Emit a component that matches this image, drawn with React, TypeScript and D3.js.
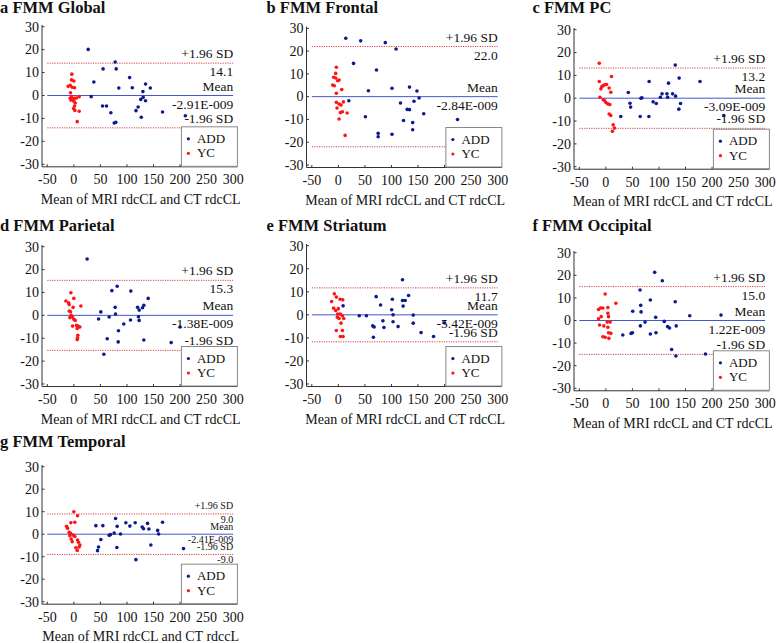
import React from 'react';
import * as d3 from 'd3';

// ---------- data ----------
const xTicks = [-50, 0, 50, 100, 150, 200, 250, 300];
const yTicks = [-30, -20, -10, 0, 10, 20, 30];
const panelLetters = ['a', 'b', 'c', 'd', 'e', 'f', 'g'];
const panelNames = ['FMM Global', 'FMM Frontal', 'FMM PC', 'FMM Parietal', 'FMM Striatum', 'FMM Occipital', 'FMM Temporal'];
const upperLimits = [14.1, 22.0, 13.2, 15.3, 11.7, 15.0, 9.0];
const meanValues = [-2.91e-9, -2.84e-9, -3.09e-9, -1.38e-9, -5.42e-9, 1.22e-9, -2.41e-9];
const meanLabels = ['-2.91E-009', '-2.84E-009', '-3.09E-009', '-1.38E-009', '-5.42E-009', '1.22E-009', '-2.41E-009'];
const xTitles = [
  'Mean of MRI rdcCL and CT rdcCL', 'Mean of MRI rdcCL and CT rdcCL', 'Mean of MRI rdcCL and CT rdcCL',
  'Mean of MRI rdcCL and CT rdcCL', 'Mean of MRI rdcCL and CT rdcCL', 'Mean of MRI rdcCL and CT rdcCL',
  'Mean of MRI rdcCL and CT rdccL',
];
const legendNames = ['ADD', 'YC'];

const globalADD = [
  [27, 20.1], [32.6, -0.5], [37.7, 5.9], [55, 11.6], [54, -4.6], [61.5, -4.6], [69.7, -7.5], [77.8, 14.6],
  [79.7, 11.6], [84.7, 3.3], [76, -12], [79, -11.7], [105, 7.8], [110, 3.4], [117, -6.6], [121, -5],
  [126, -1.7], [127, -9.5], [130, 1.7], [130.6, -0.8], [135, -2.3], [135, 5], [144, 3.3], [167, -7.2], [210, -8.8],
];
const globalYC = [
  [-3.8, 9.3], [-4.4, 6.8], [0, 6.3], [-10.7, 4.0], [-6.9, 4.4], [-3.1, 3.6], [1.3, 3.4], [-6.3, 1.2],
  [-4.4, -0.5], [-6.9, -1.2], [-2.5, -1.5], [1.3, -1.2], [5, -1.1], [10, -0.5], [-5.6, -2], [0, -2.5],
  [2.5, -3.3], [1.3, -4.6], [-0.6, -5.7], [1.9, -6.5], [10, -6.9], [6.3, -11.4],
];
const frontalADD = [
  [14, 25.6], [42, 24.5], [88.4, 23.7], [108.7, 20.9], [28.6, 14.6], [71.8, 11.7], [19.7, -1.8], [56.6, 2.6],
  [50.9, -8.8], [75, -16.1], [75, -17.6], [101, 3.7], [101, -16.5], [117, -2.8], [122.7, -10.5], [129.7, -5.6],
  [134, -5.7], [134, 4.2], [140, -11.4], [140, -14.5], [142.4, -2], [148, 2.5], [152, -0.6], [160.8, -7.5], [224.4, -10],
];
const frontalYC = [
  [-3.8, 12.9], [-5, 10.2], [-8.9, 8.5], [-5, 8.2], [-1.3, 7], [1.3, 7.3], [-10.8, 5.1], [-7.6, 4.8],
  [6.4, 3.1], [-3.8, 1.5], [-3.8, -2.5], [1.3, -3.2], [5, -3.7], [9.5, -2.3], [-2.5, -5], [7.6, -6.6],
  [3.8, -7], [16.5, -7.2], [1.3, -9.8], [12.7, -17],
];
const pcADD = [
  [42.3, 2.5], [45.4, -2.2], [46.7, -3.9], [28, -8], [64.7, -8], [66, 0], [68, 0.2], [81, -8],
  [81.5, 7.3], [89, -1.6], [95, -2.3], [102.7, 0.4], [105.8, 1.9], [115, 1.9], [116.4, 0.4], [118, 6.6],
  [125.7, 1.9], [131.3, 0.9], [130.7, 14.5], [138, 8.8], [137.5, -4.8], [140.6, -2.3], [177.3, 7.3], [222, -7.6],
];
const pcYC = [
  [-12.4, 7.3], [-12.4, 15.3], [-11.2, 0.4], [-9.3, 4.1], [-7.5, 5.1], [-5, 5.5], [-1.2, 6], [1.2, 6],
  [-5, -0.7], [-2.5, -1], [0, -1.9], [3.7, -2.5], [6.2, 4.5], [9.3, 2.6], [10.6, 9.5], [6.2, -6.9],
  [9.3, -7.6], [7.5, -2.8], [13.7, -11.7], [16.2, -13.1], [12.4, -14.5],
];
const parietalADD = [
  [25, 24.6], [46.5, -1.6], [50.8, 1.5], [62.8, -10.2], [66.5, -0.7], [71.6, 10.8], [77.8, 3.5], [78.5, 0.6],
  [81.6, 12.7], [83.5, -11.6], [84, -6.7], [56.5, -17], [94, -3.8], [107.3, 10.6], [106.7, -2], [120, 3.5],
  [123, 2.3], [121.7, -0.6], [123, -2.2], [129.3, 3.3], [131.8, 4.4], [131.8, -10.8], [140, 7.4], [183.3, -11.9], [200, -5.1],
];
const parietalYC = [
  [-5.6, 9.9], [-15, 6.3], [-10, 5.5], [-8.8, 4.7], [0, 7.4], [13.2, 4.1], [-1.3, 3.5], [-8.8, 1.9],
  [-6.3, 1.6], [-5, 0], [-2.5, -0.7], [-7.5, -1], [0, -1.7], [2.5, -2.2], [-2.5, -4.7], [5, -4.4],
  [8.8, -4.8], [11.3, -5.1], [6.3, -5.7], [7.5, -8.7], [6.9, -9.8], [6.3, -10.6],
];
const striatumADD = [
  [8.9, 3.9], [39.4, -0.4], [52.8, -0.4], [64.8, -4.8], [67.4, -5.3], [66, -9.7], [71.2, 7.9], [79.5, 4.3],
  [83.9, -2.6], [85.8, -5.5], [100.4, 2.2], [101.7, 6.8], [103, 0], [103, -3], [112.5, -5.1], [120.8, 15.2],
  [120.8, 6.2], [122, 3.8], [125.9, 6.2], [132.2, 8.4], [141, -0.1], [141, -3.6], [155.8, -7.7], [179.3, -9.4], [200, -3.5],
];
const striatumYC = [
  [-7.6, 9.1], [-3.8, 7.7], [-12.7, 5.8], [-8.9, 2.9], [-5, 1.9], [0, 2.7], [3.2, 6.8], [8.3, 6.5],
  [-1.3, 0.4], [3.8, 0.4], [7.6, -0.4], [10.2, -1.6], [-1.9, -1], [1.3, -1.6], [5, -3.6], [-3.8, -6.8],
  [7.6, -6.8], [3.8, -9.4], [8.9, -9.4],
];
const occipitalADD = [
  [31.9, -6.4], [47.5, -5.7], [50, -5.4], [50.6, 4.1], [64.4, 13.5], [65.6, 6.7], [66.3, 3.8], [65, -2.4],
  [73.8, -0.7], [83.8, 9.1], [83.8, -6], [91.9, 21.3], [93.8, 1.4], [94.4, -5.4], [106.3, 17.6], [110, -0.4],
  [116.3, -2.7], [120, -3.3], [123.8, -12.8], [130.6, 8.3], [132.5, -2.4], [131.9, -15.7], [158, 2.1], [187.5, -14.8], [216.9, 2.4],
];
const occipitalYC = [
  [-1.3, 11.7], [18.8, 7.6], [-13.8, 4.9], [-10, 5.5], [-5.6, 5.5], [3.8, 5.7], [-8.8, 1.7], [-13.8, 0.8],
  [3.8, 3.2], [5, 1.7], [2.5, -0.7], [8.1, -0.7], [-11.9, -2], [-3.8, -2.4], [3.8, -3], [9.4, -5.7],
  [5, -5.4], [-5.6, -7.2], [-1.3, -7.4], [5.6, -7.9],
];
const temporalADD = [
  [41.4, 3.8], [44.6, -7.3], [46.5, -5.7], [50.8, -2.4], [54.6, 3.8], [66.5, -0.5], [69, -0.2], [75.9, 0.5],
  [78.5, 7], [81.6, 3.5], [81, -5.9], [87.9, 0.1], [97.9, 5.1], [105.5, 3.6], [115.5, 5.1], [116.8, -11.3],
  [128.7, 3.2], [131.2, 2.4], [138.8, 4.8], [141.3, 2.3], [145, -4.8], [157.8, 1.7], [159.6, 0.1], [167, 5.3], [206.5, -6.4],
];
const temporalYC = [
  [0, 10], [6.9, 8.2], [-5.6, 5.1], [1.9, 5.3], [-13.8, 3.5], [-11.9, 2.6], [-8.8, 0.8], [-6.3, 0.4],
  [-7.5, -0.7], [-1.3, -0.4], [1.9, -1], [-5, -2.1], [-3.1, -3.3], [6.9, -2.6], [8.8, -3.6], [11.3, -4.8],
  [10, -5.7], [3.8, -6], [6.3, -7.2],
];

const addSeries = [globalADD, frontalADD, pcADD, parietalADD, striatumADD, occipitalADD, temporalADD];
const ycSeries = [globalYC, frontalYC, pcYC, parietalYC, striatumYC, occipitalYC, temporalYC];

// ---------- layout ----------
const layout = [
  { left: 42, y30: 26.7, yM30: 164.3, titleX: 0, titleY: 13 },
  { left: 306.5, y30: 28.3, yM30: 165, titleX: 266.5, titleY: 13 },
  { left: 574, y30: 29.7, yM30: 166.7, titleX: 532.5, titleY: 13 },
  { left: 42, y30: 246.7, yM30: 384, titleX: 0, titleY: 230.5 },
  { left: 306.5, y30: 245.7, yM30: 384, titleX: 266.5, titleY: 230.5 },
  { left: 574, y30: 252.7, yM30: 388.3, titleX: 532.5, titleY: 230.5 },
  { left: 42, y30: 466.7, yM30: 601.7, titleX: 0, titleY: 447 },
];

const FONT = "'Liberation Serif', 'Times New Roman', serif";
const ADD_COLOR = '#0b1a8f';
const YC_COLOR = '#ff1414';
const AXIS_COLOR = '#333';

function Panel({ i }: { i: number }) {
  const L = layout[i];
  const plotW = 195.4;
  const x = d3.scaleLinear().domain([-60, 308]).range([L.left, L.left + plotW]);
  const y = d3.scaleLinear().domain([-30, 30]).range([L.yM30, L.y30]);
  const yTop = y(30.75);
  const yBot = y(-31.1);
  const xRight = x(308);
  const up = upperLimits[i];
  const mean = meanValues[i];
  const small = i === 6;
  const lblSize = small ? 10 : 13.5;
  const above = small ? -4.5 : -5;
  const below = small ? 9 : 13;
  const lx = x(300);

  const labels: [string, number][] = [
    ['+1.96 SD', y(up) + above],
    [up.toFixed(1), y(up) + below],
    ['Mean', y(mean) + above],
    [meanLabels[i], y(mean) + below],
    ['-1.96 SD', y(-up) + above],
    ['-' + up.toFixed(1), y(-up) + below],
  ];

  const lgW = 56;
  const lgH = 39.5;
  const lgX = xRight - lgW;
  const lgY = yBot - lgH - 0.5;

  return (
    <g fontFamily={FONT}>
      <text x={L.titleX} y={L.titleY} fontSize={16.5} fontWeight="bold" fill="#111">
        {panelLetters[i] + ' ' + panelNames[i]}
      </text>
      {/* axes */}
      <line x1={L.left} x2={L.left} y1={yTop} y2={yBot} stroke={AXIS_COLOR} strokeWidth={1} />
      <line x1={L.left} x2={xRight} y1={yBot} y2={yBot} stroke={AXIS_COLOR} strokeWidth={1} />
      {yTicks.map((t) => (
        <g key={'y' + t}>
          <line x1={L.left} x2={L.left + 2.5} y1={y(t)} y2={y(t)} stroke={AXIS_COLOR} strokeWidth={1} />
          <text x={L.left - 3} y={y(t) + 4.8} fontSize={14} textAnchor="end" fill="#111">{t}</text>
        </g>
      ))}
      {xTicks.map((t) => (
        <g key={'x' + t}>
          <line x1={x(t)} x2={x(t)} y1={yBot} y2={yBot - 2.5} stroke={AXIS_COLOR} strokeWidth={1} />
          <text x={x(t)} y={yBot + 17.5} fontSize={14} textAnchor="middle" fill="#111">{t}</text>
        </g>
      ))}
      <text x={L.left + plotW / 2 + 1} y={yBot + 37} fontSize={14} textAnchor="middle" fill="#111">
        {xTitles[i]}
      </text>
      {/* limits */}
      <line x1={x(-50)} x2={x(300)} y1={y(up)} y2={y(up)} stroke="#d03030" strokeWidth={0.9} strokeDasharray="1.2 1.2" />
      <line x1={x(-50)} x2={x(300)} y1={y(-up)} y2={y(-up)} stroke="#d03030" strokeWidth={0.9} strokeDasharray="1.2 1.2" />
      <line x1={x(-50)} x2={x(300)} y1={y(mean)} y2={y(mean)} stroke="#4458cc" strokeWidth={1} />
      {/* points */}
      {addSeries[i].map((p, k) => (
        <circle key={'a' + k} cx={x(p[0])} cy={y(p[1])} r={1.8} fill={ADD_COLOR} />
      ))}
      {ycSeries[i].map((p, k) => (
        <circle key={'c' + k} cx={x(p[0])} cy={y(p[1])} r={1.8} fill={YC_COLOR} />
      ))}
      {labels.map(([s, yy], k) => (
        <text key={'l' + k} x={lx} y={yy} fontSize={lblSize} textAnchor="end" fill="#111">{s}</text>
      ))}
      {/* legend */}
      <rect x={lgX} y={lgY} width={lgW} height={lgH} fill="#fff" stroke="#888" strokeWidth={1} />
      <circle cx={lgX + 7} cy={lgY + 12} r={1.6} fill={ADD_COLOR} />
      <text x={lgX + 15.5} y={lgY + 16} fontSize={13} fill="#111">{legendNames[0]}</text>
      <circle cx={lgX + 7} cy={lgY + 26.5} r={1.6} fill={YC_COLOR} />
      <text x={lgX + 15.5} y={lgY + 30.5} fontSize={13} fill="#111">{legendNames[1]}</text>
    </g>
  );
}

export default function App() {
  return (
    <svg
      width={777}
      height={643}
      style={{ position: 'absolute', left: 0, top: 0, background: '#fff' }}
      xmlns="http://www.w3.org/2000/svg"
    >
      <rect x={0} y={0} width={777} height={643} fill="#fff" />
      {panelLetters.map((_, i) => (
        <Panel key={i} i={i} />
      ))}
    </svg>
  );
}
